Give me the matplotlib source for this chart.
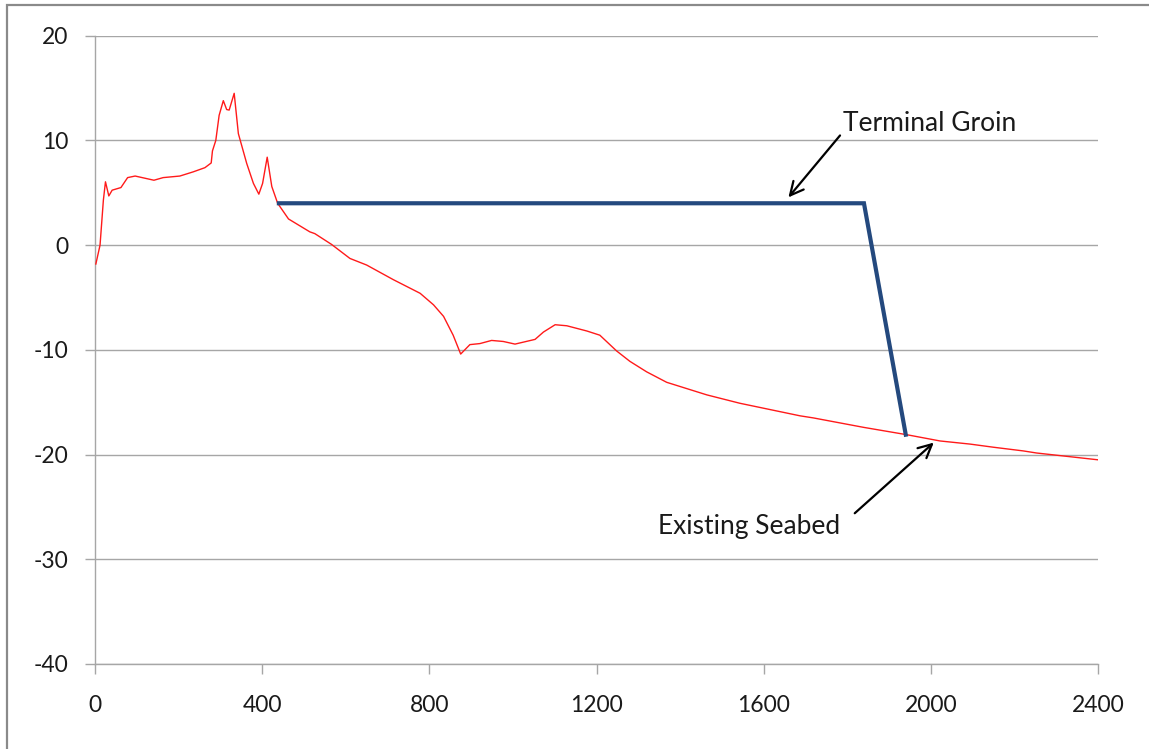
import matplotlib
matplotlib.use("Agg")
import matplotlib.pyplot as plt
from matplotlib.patches import Rectangle

# Existing seabed profile (distance, elevation)
seabed_x = [2, 12, 20, 25, 33, 41, 62, 78, 96, 141, 163, 203, 235, 263, 278,
            281, 289, 297, 307, 315, 321, 333, 343, 363, 379, 392, 401, 412,
            423, 437, 463, 514, 526, 566, 610, 650, 714, 778, 810, 834, 857,
            875, 897, 921, 949, 977, 1005, 1053, 1073, 1101, 1129, 1177, 1208,
            1248, 1280, 1320, 1368, 1464, 1543, 1639, 1687, 1719, 1839, 1942,
            2022, 2094, 2150, 2221, 2253, 2400]
seabed_y = [-1.8, 0.0, 4.3, 6.05, 4.7, 5.25, 5.5, 6.45, 6.6, 6.2, 6.45, 6.6,
            7.0, 7.4, 7.85, 9.0, 10.0, 12.4, 13.8, 12.95, 12.9, 14.5, 10.65,
            7.8, 5.9, 4.87, 5.9, 8.4, 5.6, 4.0, 2.5, 1.27, 1.1, 0.07, -1.27,
            -1.9, -3.3, -4.6, -5.7, -6.8, -8.6, -10.4, -9.5, -9.4, -9.1, -9.2,
            -9.45, -9.0, -8.3, -7.6, -7.7, -8.2, -8.6, -10.1, -11.1, -12.1,
            -13.1, -14.3, -15.1, -15.9, -16.3, -16.5, -17.4, -18.1, -18.7,
            -19.0, -19.3, -19.65, -19.85, -20.5]

# Terminal groin outline
groin_x = [440, 1840, 1940]
groin_y = [4.0, 4.0, -18.1]

x_ticks = [0, 400, 800, 1200, 1600, 2000, 2400]
y_ticks = [-40, -30, -20, -10, 0, 10, 20]

FONT = ["Lato", "DejaVu Sans"]
plt.rcParams["font.family"] = FONT

fig = plt.figure(figsize=(11.49, 7.49), dpi=100)
ax = fig.add_axes([0.0827, 0.1135, 0.8729, 0.8388])

# outer chart border (right/bottom cut off in the reference)
fig.patches.append(Rectangle((7 / 1149, -0.05), 1.1, 1 - 5 / 749 + 0.05,
                             transform=fig.transFigure, fill=False,
                             edgecolor="#8a8a8a", linewidth=1.6))

ax.plot(seabed_x, seabed_y, color="#ff1a1a", linewidth=1.0, zorder=3)
ax.plot(groin_x, groin_y, color="#24497e", linewidth=3.0,
        solid_joinstyle="miter", zorder=4)

ax.set_xlim(0, 2400)
ax.set_ylim(-40, 20)
ax.set_xticks(x_ticks)
ax.set_yticks(y_ticks)
ax.set_xticklabels([str(v) for v in x_ticks])
ax.set_yticklabels([str(v) for v in y_ticks])

ax.grid(axis="y", color="#a6a6a6", linewidth=1.0)
ax.set_axisbelow(True)
for side in ["top", "right"]:
    ax.spines[side].set_visible(False)
for side in ["left", "bottom"]:
    ax.spines[side].set_color("#a6a6a6")
    ax.spines[side].set_linewidth(1.0)

ax.tick_params(axis="both", colors="#a6a6a6", labelcolor="#1a1a1a",
               labelsize=16.5, length=7, width=1.0)
ax.tick_params(axis="y", pad=12)
ax.tick_params(axis="x", pad=15)

arrow = dict(arrowstyle="->", color="black", lw=1.6, mutation_scale=24)
ax.annotate("", xy=(1655, 4.36), xytext=(1787, 10.68), arrowprops=arrow)
ax.text(1790, 11.63, "Terminal Groin", fontsize=19, va="center", ha="left",
        color="#1a1a1a")
ax.annotate("", xy=(2012, -18.68), xytext=(1813, -25.78), arrowprops=arrow)
ax.text(1347, -26.83, "Existing Seabed", fontsize=19, va="center", ha="left",
        color="#1a1a1a")

fig.savefig("out.png", dpi=100)
